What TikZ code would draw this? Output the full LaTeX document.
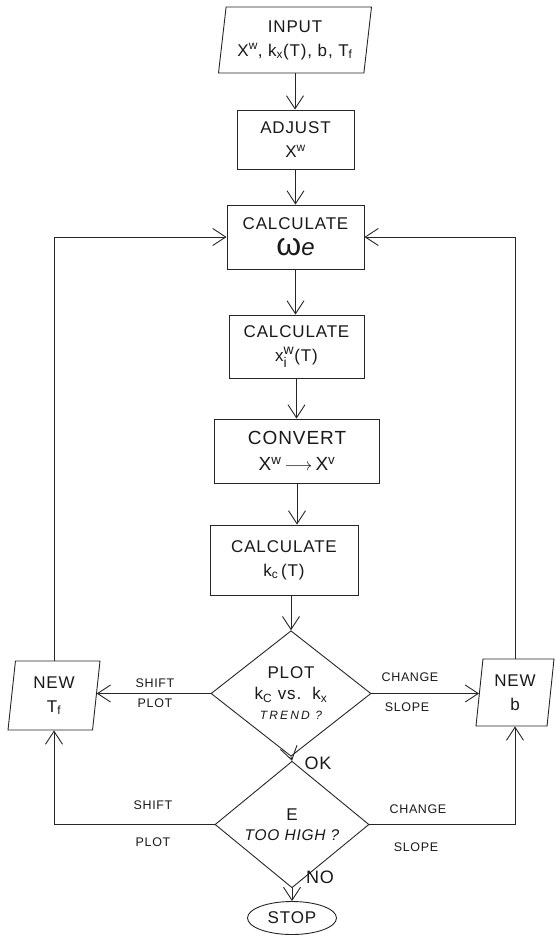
\documentclass[tikz,border=0pt]{standalone}
\usepackage{fontspec}
\usepackage{amsmath}
\setmainfont{Liberation Sans}[LetterSpace=5]
\newfontfamily\spaced{Liberation Sans}[LetterSpace=18]
\usetikzlibrary{shapes.geometric,arrows.meta}
\newcommand{\scr}[1]{\text{\fontsize{14}{14}\selectfont #1}}
\begin{document}
\begin{tikzpicture}[x=1pt,y=-1pt,line width=0.9pt,draw=black!85,
  every node/.style={font=\fontsize{17}{24}\selectfont,text=black!90},
  box/.style={draw,rectangle,inner sep=0pt,align=center},
  para/.style={draw,trapezium,trapezium left angle=79,trapezium right angle=101,
    trapezium stretches body,inner sep=0pt,align=center},
  dia/.style={draw,diamond,inner sep=0pt,align=center},
  arr/.style={-{Straight Barb[length=13pt,width=17pt,line width=0.9pt]}},
  lbl/.style={font=\fontsize{12.5}{14}\selectfont},
  lblb/.style={font=\fontsize{18}{20}\selectfont}]
\useasboundingbox (0,0) rectangle (555,936);

\node[para,minimum width=153,minimum height=66] (input) at (295,40)
  {INPUT\\X\textsuperscript{w}, k\textsubscript{x}(T), b, T\textsubscript{f}};
\node[box,minimum width=117,minimum height=59] (adjust) at (295.5,139.5)
  {ADJUST\\X\textsuperscript{w}};
\node[box,minimum width=137,minimum height=64] (calc1) at (295.5,237)
  {CALCULATE\\[2pt]{\fontsize{32}{24}\selectfont ω}{\fontsize{24}{24}\selectfont\itshape e}};
\node[box,minimum width=135,minimum height=63] (calc2) at (296.5,346.5)
  {CALCULATE\\x$^{\scr{w}}_{\scr{i}}$(T)};
\node[box,minimum width=165,minimum height=64,font=\fontsize{19}{26}\selectfont] (convert) at (297,451)
  {CONVERT\\X\textsuperscript{w}\,$\longrightarrow$\,X\textsuperscript{v}};
\node[box,minimum width=148,minimum height=70] (calc3) at (284,560)
  {CALCULATE\\k\textsubscript{c}\,(T)};
\node[dia,minimum width=160,minimum height=109] (plot) at (291,693.5)
  {PLOT\\[-3pt]k\textsubscript{C} vs.\ \ k\textsubscript{x}\\[-4pt]{\fontsize{12}{13}\selectfont\spaced\itshape TREND ?}};
\node[dia,minimum width=154,minimum height=91] (E) at (292,824.5)
  {E\\[-4pt]{\fontsize{15.5}{16}\selectfont\itshape TOO HIGH ?}};
\node[draw,ellipse,minimum width=89,minimum height=33,inner sep=0pt] (stop) at (292,918) {STOP};
\node[para,minimum width=92,minimum height=69] (newT) at (54,695.5)
  {NEW\\T\textsubscript{f}};
\node[para,minimum width=78,minimum height=67] (newb) at (515,692.5)
  {NEW\\b};

\draw[arr] (input.south) -- (input.south |- adjust.north);
\draw[arr] (adjust.south) -- (adjust.south |- calc1.north);
\draw[arr] (calc1.south) -- (calc1.south |- calc2.north);
\draw[arr] (calc2.south) -- (calc2.south |- convert.north);
\draw[arr] (convert.south) -- (convert.south |- calc3.north);
\draw[arr] (plot.north |- calc3.south) -- (plot.north);
\draw[arr] (plot.south) -- (E.north);
\draw[arr] (E.south) -- (stop.north);

\draw[arr] (plot.west) -- (newT.east |- plot.west);
\draw[arr] (plot.east) -- (newb.west |- plot.east);
\draw[arr] (newT.north) -- (newT.north |- calc1.west) -- (calc1.west);
\draw[arr] (newb.north) -- (newb.north |- calc1.east) -- (calc1.east);
\draw[arr] (E.west) -- (E.west -| newT.south) -- (newT.south);
\draw[arr] (E.east) -- (E.east -| newb.south) -- (newb.south);

\node[lbl] (sh1) at (155,683) {SHIFT};
\node[lbl] (pl1) at (155,703) {PLOT};
\node[lbl] (ch1) at (410,677) {CHANGE};
\node[lbl] (sl1) at (407,707) {SLOPE};
\node[lbl] (sh2) at (153,805) {SHIFT};
\node[lbl] (pl2) at (153,842) {PLOT};
\node[lbl] (ch2) at (418,809) {CHANGE};
\node[lbl] (sl2) at (416,847) {SLOPE};
\node[lblb] (ok) at (318,763) {OK};
\node[lblb] (no) at (320,877) {NO};
\end{tikzpicture}
\end{document}
